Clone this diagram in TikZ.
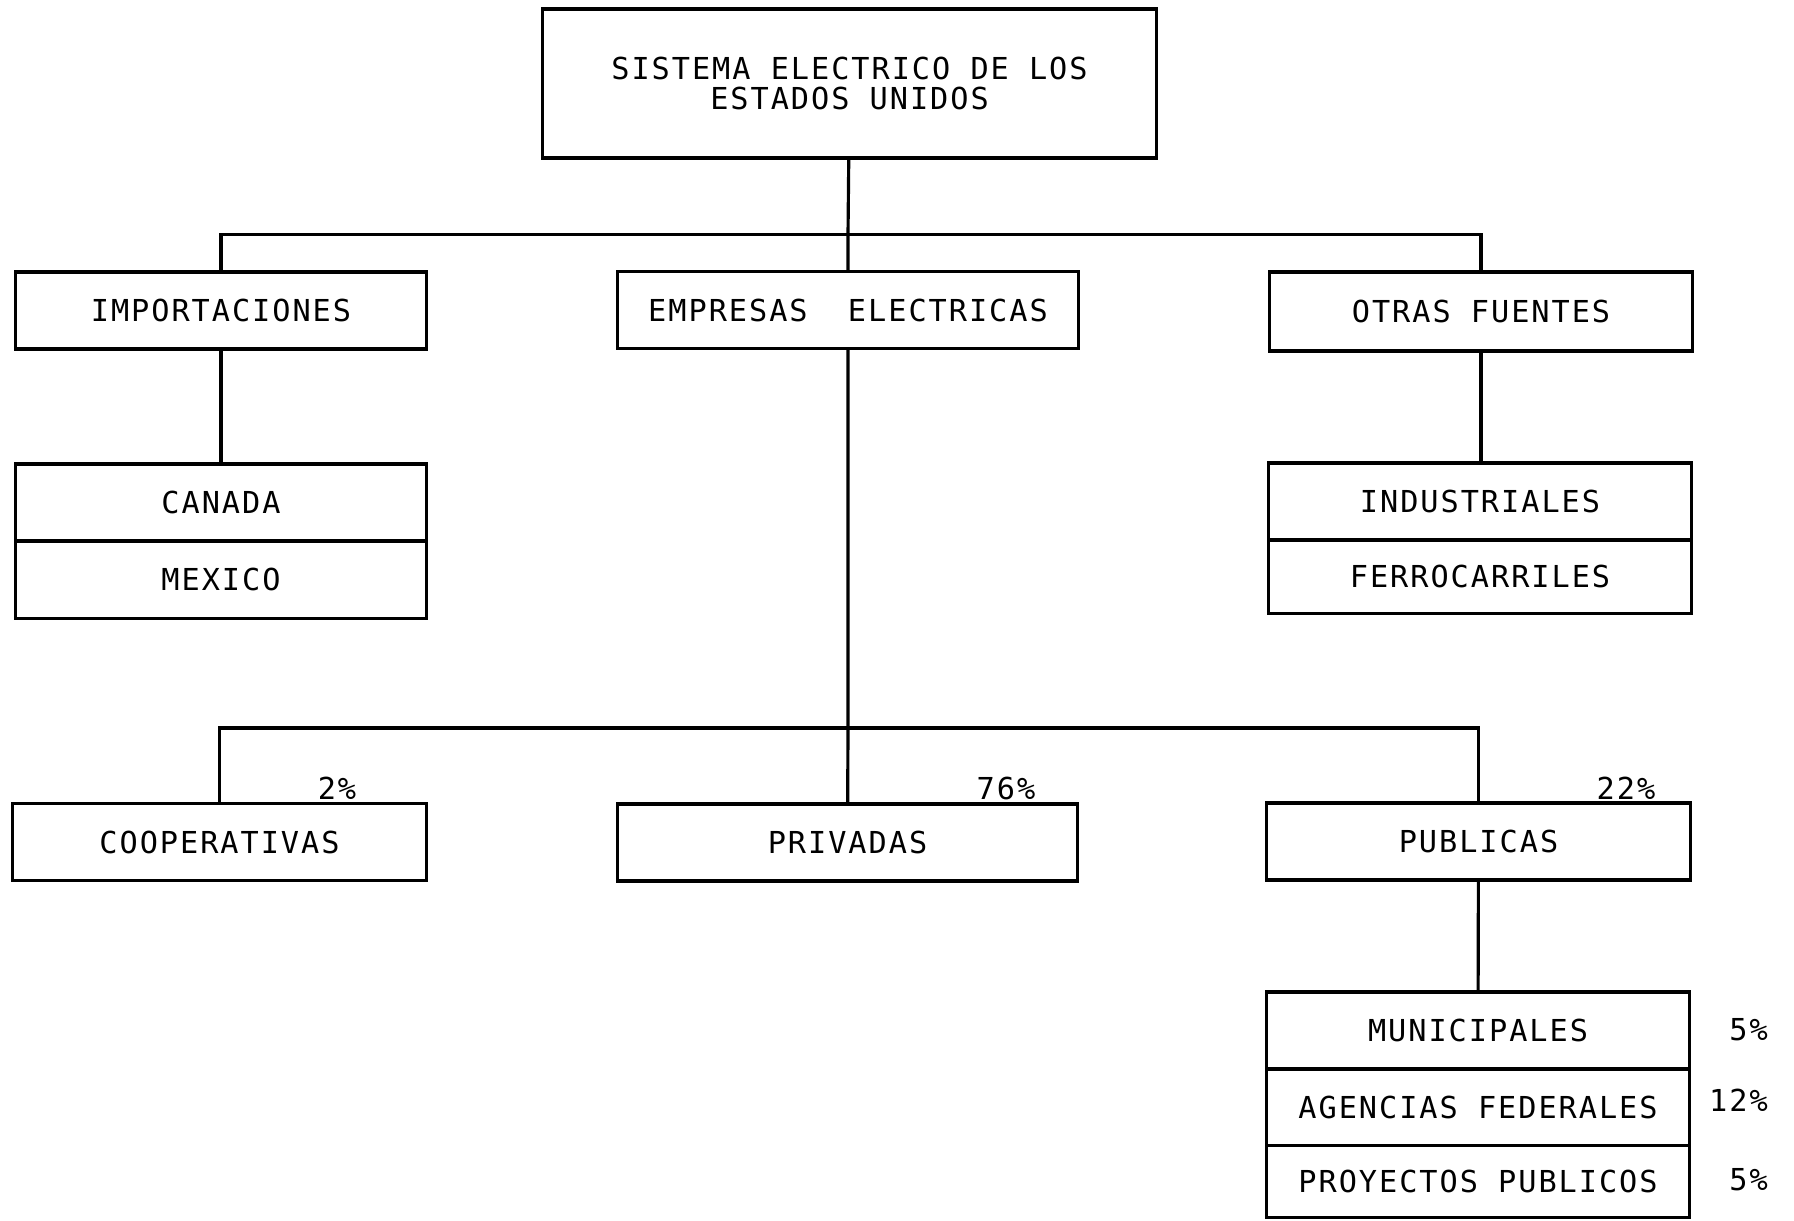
\documentclass[tikz,border=0pt]{standalone}
\usepackage{fontspec}
\setmainfont[LetterSpace=6.5]{DejaVu Sans Mono}
\usetikzlibrary{positioning,calc}

\begin{document}
\begin{tikzpicture}[
  x=0.01cm, y=-0.01cm,
  every node/.style={font=\fontsize{8.6}{10}\selectfont},
  box/.style  ={draw, line width=0.9pt, outer sep=0pt, inner sep=0pt,
                minimum height=0.77cm, align=center},
  wbox/.style ={box, minimum width=4.10cm},
  mbox/.style ={box, minimum width=4.60cm},
  rbox/.style ={box, minimum width=4.23cm},
  pct/.style  ={inner sep=1pt},
  conn/.style ={line width=0.9pt}
]
\useasboundingbox (0,0) rectangle (1794,1220);

%% ---- top -------------------------------------------------------------
\node[box, minimum width=6.13cm, minimum height=1.49cm] (sistema) at (849.5,83.5)
     {SISTEMA ELECTRICO DE LOS\\[-1.2pt]ESTADOS UNIDOS};

%% ---- second row ------------------------------------------------------
\node[wbox] (import) at (221,310.5) {IMPORTACIONES};
\node[mbox] (empresas) at (848,310) {EMPRESAS\ \ ELECTRICAS};
\node[rbox, minimum height=0.79cm] (otras) at (1481,311.5) {OTRAS FUENTES};

\coordinate (bus1) at (848,234.5);
\draw[conn] (sistema) -- (bus1) -- (empresas);
\draw[conn] (import.north) |- (bus1) -| (otras.north);

% stacked boxes
\node[wbox] (canada) at (221,502.5) {CANADA};
\node[wbox, below=0 of canada] (mexico) {MEXICO};
\node[rbox] (indus) at (1480,501.5) {INDUSTRIALES};
\node[rbox, minimum height=0.73cm, below=0 of indus] (ferro) {FERROCARRILES};

\draw[conn] (import) -- (canada);
\draw[conn] (otras.south) -- (otras.south |- indus.north);

%% ---- third row -------------------------------------------------------
\node[box, minimum width=4.13cm] (coop) at (219.5,842) {COOPERATIVAS};
\node[mbox] (privadas) at (847.5,842.5) {PRIVADAS};
\node[rbox] (publicas) at (1478.5,841.5) {PUBLICAS};

\coordinate (bus2) at (848,728);
\draw[conn] (empresas) -- (bus2) -- (privadas);
\draw[conn] (coop.north) |- (bus2) -| (publicas.north);

\node[pct] (pcoop) at (337,788) {2\%};
\node[pct] (ppriv) at (1006,788) {76\%};
\node[pct] (ppub)  at (1626,788) {22\%};

%% ---- publicas detail -------------------------------------------------
\node[rbox, minimum width=4.22cm] (muni) at (1478,1030.5) {MUNICIPALES};
\node[rbox, minimum width=4.22cm, minimum height=0.76cm, below=0 of muni] (agencias) {AGENCIAS FEDERALES};
\node[rbox, minimum width=4.22cm, minimum height=0.72cm, below=0 of agencias] (proyectos) {PROYECTOS PUBLICOS};

\draw[conn] (publicas) -- (muni);

\node[pct, anchor=east] (pmuni) at (1772,1030) {5\%};
\node[pct, anchor=east] (pagen) at (1772,1100) {12\%};
\node[pct, anchor=east] (pproy) at (1772,1180) {5\%};

\end{tikzpicture}
\end{document}
